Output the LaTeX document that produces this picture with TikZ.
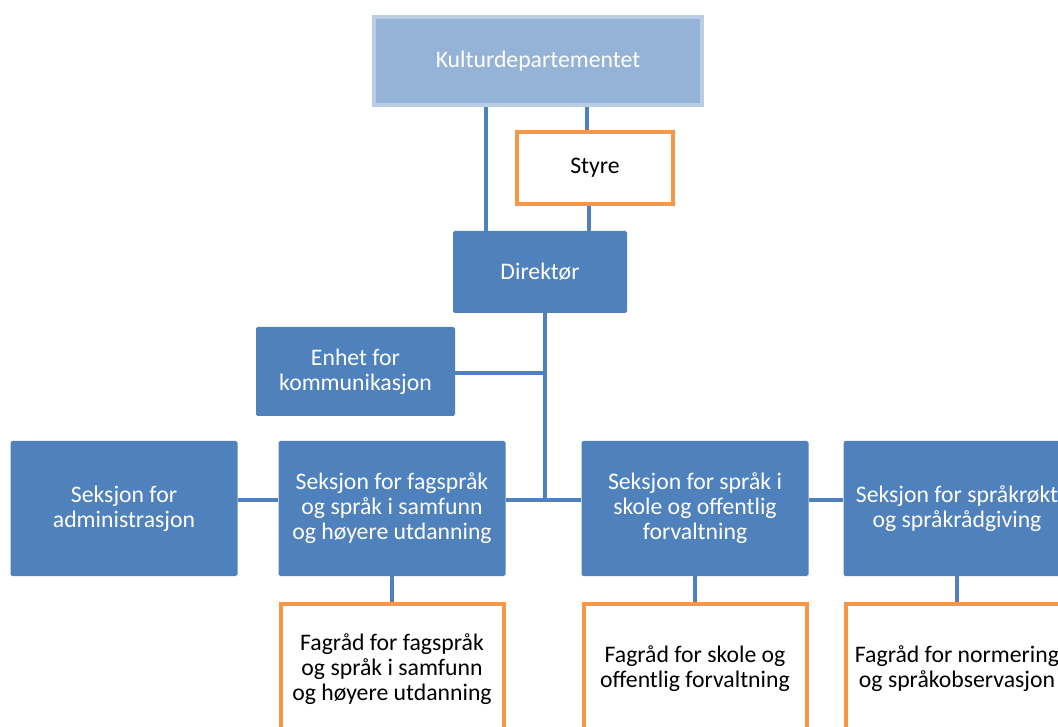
\documentclass[tikz,border=0pt]{standalone}
\usepackage{fontspec}
\setmainfont{Carlito}
\usetikzlibrary{backgrounds}
\definecolor{boxblue}{HTML}{4F81BD}
\definecolor{kdfill}{HTML}{95B3D7}
\definecolor{kdline}{HTML}{B9CDE5}
\definecolor{orng}{HTML}{F79646}
\tikzset{
  every node/.style={font=\fontsize{17.8}{18.8}\selectfont, align=center, inner sep=0pt},
  bluebox/.style={fill=boxblue, text=white, rounded corners=1.2pt,
    minimum width=170.25pt, minimum height=101.25pt},
  orangebox/.style={draw=orng, line width=3pt, fill=white, text=black,
    minimum width=167.25pt, minimum height=97.5pt},
  conn/.style={draw=boxblue, line width=3pt},
}
\begin{document}
\begin{tikzpicture}[x=0.75pt,y=-0.75pt]
\useasboundingbox (0,0) rectangle (1058,727);
% top
\node[draw=kdline, line width=3pt, fill=kdfill, text=white,
  minimum width=246pt, minimum height=66pt] (kd) at (538,61) {Kulturdepartementet};
\node[orangebox, minimum width=117pt, minimum height=54pt] (styre) at (595,168) {Styre};
\node[bluebox, minimum width=130.5pt, minimum height=61.5pt] (dir) at (540,272) {Direktør};
\node[bluebox, minimum width=149.25pt, minimum height=66.75pt] (enhet) at (355.5,371.5) {Enhet for\\kommunikasjon};
% sections
\node[bluebox] (admin) at (124,508.5) {Seksjon for\\administrasjon};
\node[bluebox] (fag) at (392,508.5) {Seksjon for fagspråk\\og språk i samfunn\\og høyere utdanning};
\node[bluebox] (skole) at (695,508.5) {Seksjon for språk i\\skole og offentlig\\forvaltning};
\node[bluebox] (rokt) at (957,508.5) {Seksjon for språkrøkt\\og språkrådgiving};
% councils
\node[orangebox] (fr1) at (392,669) {Fagråd for fagspråk\\og språk i samfunn\\og høyere utdanning};
\node[orangebox] (fr2) at (695,669) {Fagråd for skole og\\offentlig forvaltning};
\node[orangebox] (fr3) at (957,669) {Fagråd for normering\\og språkobservasjon};
% connector helper coordinates
\coordinate (xa) at (486,0);
\coordinate (xb) at (587,0);
\coordinate (xc) at (589,0);
\coordinate (ye) at (0,373);
\coordinate (j) at (545,500);
\begin{scope}[on background layer]
\draw[conn] (kd.south -| xa) -- (dir.north -| xa);
\draw[conn] (kd.south -| xb) -- (styre.north -| xb);
\draw[conn] (styre.south -| xc) -- (dir.north -| xc);
\draw[conn] (dir.south -| j) -- (j);
\draw[conn] (enhet.east |- ye) -- (j |- ye);
\draw[conn] (admin.east |- j) -- (fag.west |- j);
\draw[conn] (fag.east |- j) -- (skole.west |- j);
\draw[conn] (skole.east |- j) -- (rokt.west |- j);
\draw[conn] (fag.south) -- (fr1.north);
\draw[conn] (skole.south) -- (fr2.north);
\draw[conn] (rokt.south) -- (fr3.north);
\end{scope}
\end{tikzpicture}
\end{document}
